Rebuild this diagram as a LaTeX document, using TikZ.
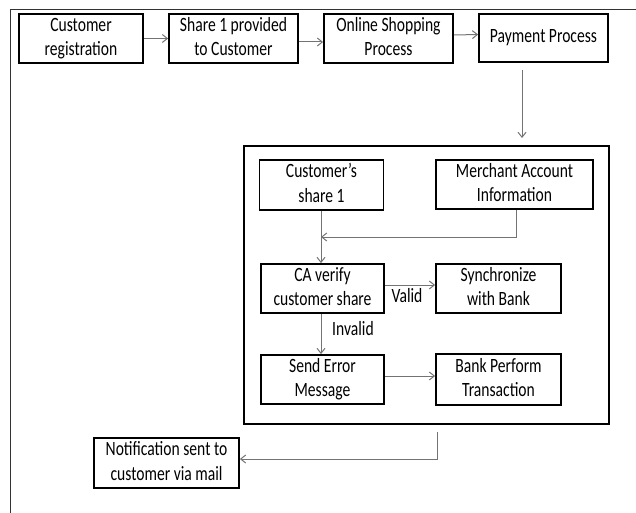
\documentclass[tikz,border=0pt]{standalone}
\usepackage{fontspec}
\usepackage{graphicx}
\setmainfont{Carlito}
\usetikzlibrary{arrows.meta}
\newcommand{\stx}[1]{\scalebox{1}[1.3]{\begin{tabular}{@{}c@{}}#1\end{tabular}}}
\tikzset{
  pbox/.style={draw=black, line width=1.8pt, fill=white, align=center, inner sep=0pt,
    font=\fontsize{15.6}{18.7}\selectfont, text=black},
  framebox/.style={draw=black, line width=1.8pt, inner sep=0pt},
  arr/.style={draw=black!55, line width=1pt, -{Straight Barb[length=5pt,width=8pt]}},
  lbl/.style={font=\fontsize{15.6}{18.7}\selectfont, text=black, inner sep=0pt}
}
\begin{document}
\begin{tikzpicture}[x=1pt,y={(0pt,-1pt)}]
\useasboundingbox (0,0) rectangle (636,513);
% outer partial frame
\draw[black!80, line width=1.8pt] (10.5,513) -- (10.5,9.5) -- (636,9.5);

% top row
\node[pbox, minimum width=124pt, minimum height=49pt] (b1) at (81,38.5) {\stx{Customer\\registration}};
\node[pbox, minimum width=129pt, minimum height=49pt] (b2) at (233.5,38.5) {\stx{Share 1 provided\\to Customer}};
\node[pbox, minimum width=129pt, minimum height=49pt] (b3) at (388.5,38.5) {\stx{Online Shopping\\Process}};
\node[pbox, minimum width=129pt, minimum height=48pt] (b4) at (543.5,38) {\stx{Payment Process}};

\draw[arr] (b1.east) -- (b2.west);
\draw[arr] ([yshift=-3.5pt]b2.east) -- ([yshift=-3.5pt]b3.west);
\draw[arr] ([yshift=3.5pt]b3.east) -- ([yshift=3.5pt]b4.west);

% inner frame
\node[framebox, minimum width=365pt, minimum height=278pt] (fr) at (426.5,285) {};

\coordinate (p1) at (522,70);
\coordinate (p2) at (522,138);
\draw[arr] (p1) -- (p2);

% inner boxes
\node[pbox, minimum width=124pt, minimum height=50pt] (cs) at (321.5,185) {\stx{Customer’s\\share 1}};
\node[pbox, minimum width=157pt, minimum height=49pt] (ma) at (514.5,184.5) {\stx{Merchant Account\\Information}};
\node[pbox, minimum width=123pt, minimum height=49pt] (ca) at (322.5,288.5) {\stx{CA verify\\customer share}};
\node[pbox, minimum width=125pt, minimum height=49pt] (sy) at (498.5,288.5) {\stx{Synchronize\\with Bank}};
\node[pbox, minimum width=123pt, minimum height=49pt] (se) at (322.5,379.5) {\stx{Send Error\\Message}};
\node[pbox, minimum width=125pt, minimum height=51pt] (bp) at (498.5,379.5) {\stx{Bank Perform\\Transaction}};

\coordinate (j) at (321,237);
\draw[arr] (cs.south -| j) -- (ca.north -| j);
\draw[arr] ([xshift=1.5pt]ma.south) |- (j);
\draw[arr] ([yshift=3.5pt]ca.east) -- ([yshift=3.5pt]sy.west);
\node[lbl] (valid) at (407,298) {\stx{Valid}};
\draw[arr] (ca.south -| j) -- (se.north -| j);
\node[lbl] (invalid) at (353,331) {\stx{Invalid}};
\draw[arr] ([yshift=3.5pt]se.east) -- ([yshift=3.5pt]bp.west);

% notification
\node[pbox, minimum width=145pt, minimum height=50pt] (nt) at (166.5,463) {\stx{Notification sent to\\customer via mail}};
\coordinate (q1) at (437,432);
\draw[arr] (q1) |- ([yshift=4pt]nt.east);
\end{tikzpicture}
\end{document}
